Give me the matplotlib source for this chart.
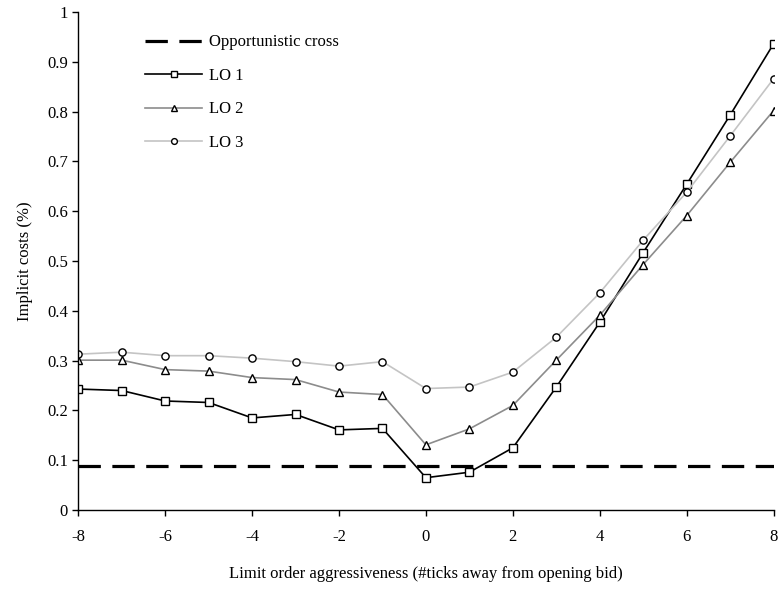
import matplotlib.pyplot as plt

plt.rcParams['font.family'] = ['Liberation Serif', 'DejaVu Serif']
plt.rcParams.update({
    'font.size': 12,
    'axes.linewidth': 1.0,
    'axes.unicode_minus': False,
})

# ---- data ----
x = [-8, -7, -6, -5, -4, -3, -2, -1, 0, 1, 2, 3, 4, 5, 6, 7, 8]
lo1 = [0.243, 0.240, 0.219, 0.216, 0.185, 0.192, 0.161, 0.164,
       0.065, 0.076, 0.125, 0.247, 0.377, 0.517, 0.654, 0.793, 0.936]
lo2 = [0.301, 0.301, 0.282, 0.279, 0.266, 0.262, 0.237, 0.232,
       0.131, 0.163, 0.210, 0.301, 0.391, 0.493, 0.591, 0.698, 0.802]
lo3 = [0.313, 0.317, 0.310, 0.310, 0.305, 0.298, 0.289, 0.298,
       0.244, 0.247, 0.277, 0.347, 0.436, 0.542, 0.638, 0.751, 0.866]
opp_cross = 0.088

fig = plt.figure(figsize=(7.79, 5.89), dpi=100)
ax = fig.add_axes([0.1005, 0.134, 0.8925, 0.8456])

ax.axhline(opp_cross, color='black', linewidth=2.3, dashes=(7, 3.6),
           label='Opportunistic cross')
mk = dict(markersize=5.2, markerfacecolor='white', markeredgecolor='black',
          markeredgewidth=1.0)
ax.plot(x, lo1, color='black', linewidth=1.2, marker='s', label='LO 1', **mk)
ax.plot(x, lo2, color='#8c8c8c', linewidth=1.2, marker='^', label='LO 2', **mk)
ax.plot(x, lo3, color='#c4c4c4', linewidth=1.2, marker='o', label='LO 3', **mk)

ax.set_xlim(-8, 8)
ax.set_ylim(0, 1)
ax.set_xticks(range(-8, 9, 2))
ax.set_yticks([0, 0.1, 0.2, 0.3, 0.4, 0.5, 0.6, 0.7, 0.8, 0.9, 1])
ax.set_yticklabels(['0', '0.1', '0.2', '0.3', '0.4', '0.5', '0.6',
                    '0.7', '0.8', '0.9', '1'])
ax.spines['top'].set_visible(False)
ax.spines['right'].set_visible(False)
ax.tick_params(axis='x', direction='out', length=4.5, width=1.0, pad=9)
ax.tick_params(axis='y', direction='out', length=4.5, width=1.0, pad=3)

ax.set_xlabel('Limit order aggressiveness (#ticks away from opening bid)',
              labelpad=15)
ax.set_ylabel('Implicit costs (%)', labelpad=10)

ax.legend(loc='upper left', bbox_to_anchor=(0.075, 0.985), frameon=False,
          handlelength=3.4, handletextpad=0.4, labelspacing=1.05,
          markerscale=0.8)

fig.savefig('out.png', dpi=100)
